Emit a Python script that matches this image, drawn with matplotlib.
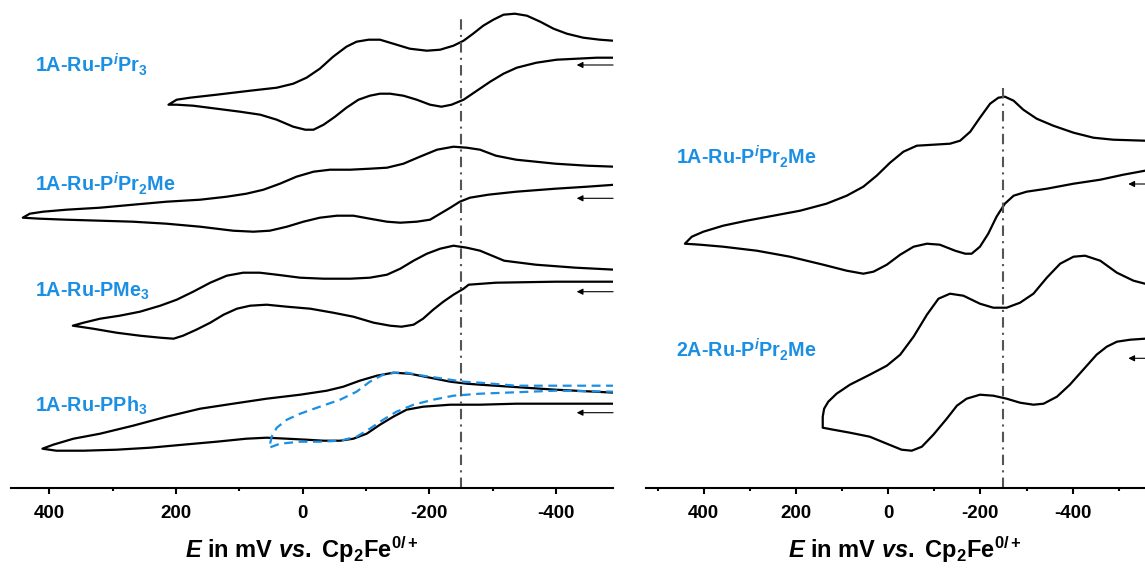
import matplotlib
matplotlib.use("Agg")
import matplotlib.pyplot as plt
from matplotlib.ticker import MultipleLocator

plt.rcParams.update({
    "font.family": "Liberation Sans",
    "font.weight": "bold",
    "axes.unicode_minus": False,
    "mathtext.fontset": "custom",
    "mathtext.rm": "Liberation Sans:bold",
    "mathtext.it": "Liberation Sans:italic:bold",
    "mathtext.bf": "Liberation Sans:bold",
})

BLUE = "#1a8fe3"

# ---- left panel: E in mV vs Fc, current in a.u. (relative to each trace's start) ----
# each trace: return branch from the negative end to the positive vertex, then forward branch back
PIPR3_E = [-490, -464, -433, -401, -369, -338, -317, -296, -275, -254, -235, -219, -201, -180,
           -159, -138, -122, -106, -88, -69, -51, -33, -17, -4, 15, 41, 67, 99, 136, 173, 199,
           212, 199, 178, 136, 83, 41, 15, -6, -27, -48, -69, -85, -104, -122, -143, -169, -196,
           -217, -238, -254, -269, -285, -301, -317, -335, -354, -375, -396, -417, -443, -469,
           -490]
PIPR3_I = [0.0, 0.0, -0.1, -0.2, -0.5, -1.0, -1.6, -2.4, -3.3, -4.2, -4.7, -4.9, -4.7, -4.2,
           -3.8, -3.6, -3.6, -3.8, -4.2, -5.0, -5.9, -6.7, -7.2, -7.2, -6.9, -6.2, -5.7, -5.4,
           -5.1, -4.8, -4.7, -4.7, -4.2, -4.0, -3.7, -3.3, -3.0, -2.6, -2.0, -1.1, 0.1, 1.1, 1.6,
           1.8, 1.8, 1.4, 0.9, 0.7, 0.8, 1.2, 1.7, 2.4, 3.2, 3.8, 4.3, 4.4, 4.2, 3.6, 2.9, 2.4,
           2.0, 1.8, 1.7]

PIPR2ME_E = [-493, -449, -399, -337, -293, -264, -248, -233, -217, -201, -180, -154, -133, -106,
             -80, -54, -27, -1, 25, 52, 78, 110, 162, 215, 268, 320, 373, 415, 442, 431, 410,
             373, 320, 268, 215, 162, 120, 89, 62, 36, 10, -17, -43, -75, -106, -133, -159,
             -185, -212, -238, -259, -280, -305, -337, -399, -449, -493]
PIPR2ME_I = [0.0, -0.2, -0.4, -0.7, -1.0, -1.3, -1.7, -2.3, -2.9, -3.5, -3.7, -3.8, -3.7, -3.4,
             -3.1, -3.1, -3.3, -3.7, -4.2, -4.6, -4.7, -4.6, -4.2, -3.9, -3.7, -3.6, -3.5, -3.4,
             -3.3, -2.9, -2.7, -2.5, -2.3, -2.0, -1.7, -1.5, -1.2, -0.9, -0.5, 0.1, 0.8, 1.3,
             1.5, 1.5, 1.6, 1.7, 2.1, 2.8, 3.5, 3.8, 3.7, 3.5, 2.9, 2.5, 2.1, 1.9, 1.8]

PME3_E = [-493, -399, -305, -262, -254, -238, -222, -206, -190, -175, -156, -138, -112, -80,
          -48, -12, 25, 57, 83, 104, 125, 146, 168, 189, 204, 225, 257, 294, 331, 352, 363, 346,
          320, 289, 257, 225, 199, 173, 146, 120, 94, 68, 41, 4, -33, -75, -106, -133, -154,
          -175, -196, -217, -238, -259, -280, -318, -368, -431, -493]
PME3_I = [0.0, 0.0, -0.1, -0.3, -0.7, -1.3, -2.0, -2.8, -3.7, -4.3, -4.5, -4.4, -4.1, -3.5,
          -3.1, -2.7, -2.5, -2.3, -2.4, -2.7, -3.3, -4.1, -4.8, -5.4, -5.7, -5.6, -5.4, -5.1,
          -4.7, -4.5, -4.4, -4.1, -3.7, -3.4, -3.0, -2.4, -1.8, -1.0, -0.1, 0.6, 0.9, 0.9, 0.7,
          0.4, 0.3, 0.3, 0.4, 0.7, 1.3, 2.1, 2.8, 3.3, 3.6, 3.4, 3.1, 2.1, 1.7, 1.4, 1.2]

PPH3_E = [-493, -337, -280, -233, -190, -164, -143, -122, -101, -80, -59, -33, -6, 25, 57, 89,
          136, 189, 241, 294, 346, 389, 411, 394, 362, 320, 268, 215, 162, 110, 57, 4, -38, -64,
          -90, -117, -143, -169, -201, -233, -259, -280, -399, -493]
PPH3_I = [0.0, 0.0, -0.1, -0.1, -0.3, -0.6, -1.3, -2.1, -3.0, -3.5, -3.7, -3.7, -3.6, -3.5,
          -3.4, -3.5, -3.8, -4.1, -4.4, -4.6, -4.7, -4.7, -4.5, -4.1, -3.5, -3.0, -2.2, -1.3,
          -0.5, 0.0, 0.5, 0.9, 1.3, 1.7, 2.3, 2.8, 3.1, 3.0, 2.6, 2.2, 2.0, 1.9, 1.4, 1.1]

# narrower window for 1A-Ru-PPh3 (dashed)
PPH3_NARROW_E = [-493, -337, -280, -254, -222, -190, -164, -146, -127, -106, -85, -59, -27, 4,
                 25, 41, 49, 53, 36, 4, -27, -59, -85, -106, -127, -148, -175, -206, -238, -280,
                 -399, -493]
PPH3_NARROW_I = [1.8, 1.8, 2.1, 2.2, 2.5, 2.8, 3.1, 3.1, 2.9, 2.2, 1.2, 0.4, -0.3, -1.0, -1.6,
                 -2.4, -3.3, -4.4, -4.0, -3.8, -3.8, -3.7, -3.3, -2.5, -1.6, -0.8, -0.1, 0.4,
                 0.8, 1.0, 1.3, 1.2]

# ---- right panel ----
R_PIPR2ME_E = [-557, -510, -460, -402, -344, -300, -272, -253, -235, -217, -199, -181, -167,
               -145, -112, -84, -55, -26, 3, 32, 54, 90, 141, 213, 285, 358, 408, 441, 426, 401,
               358, 307, 249, 191, 134, 90, 54, 25, -4, -33, -62, -98, -134, -156, -178, -199,
               -221, -239, -253, -272, -293, -322, -358, -402, -445, -488, -557]
R_PIPR2ME_I = [0.0, -0.4, -0.9, -1.3, -1.8, -2.1, -2.5, -3.3, -4.6, -6.3, -7.6, -8.3, -8.3,
               -8.0, -7.4, -7.3, -7.6, -8.4, -9.4, -10.1, -10.3, -10.0, -9.4, -8.6, -8.0, -7.6,
               -7.4, -7.3, -6.6, -6.1, -5.5, -5.0, -4.5, -4.0, -3.3, -2.5, -1.6, -0.5, 0.8, 1.9,
               2.5, 2.6, 2.7, 3.0, 3.9, 5.3, 6.7, 7.3, 7.4, 7.0, 6.1, 5.2, 4.5, 3.8, 3.3, 3.1,
               3.0]

DIMER_E = [-557, -525, -496, -474, -452, -423, -394, -366, -337, -315, -286, -257, -228, -199,
           -170, -149, -127, -98, -73, -51, -29, 3, 40, 83, 119, 142, 142, 139, 130, 112, 83, 40,
           3, -26, -55, -84, -109, -134, -163, -199, -228, -257, -286, -315, -344, -373, -402,
           -427, -460, -496, -532, -557]
DIMER_I = [-0.1, -0.2, -0.4, -0.9, -1.7, -3.2, -4.7, -5.9, -6.6, -6.7, -6.5, -6.1, -5.8, -5.7,
           -6.1, -6.8, -8.1, -9.7, -10.9, -11.3, -11.2, -10.6, -9.9, -9.5, -9.2, -9.0, -7.9,
           -7.1, -6.4, -5.6, -4.7, -3.7, -2.8, -1.7, 0.1, 2.3, 3.9, 4.4, 4.2, 3.4, 3.0, 3.0, 3.5,
           4.4, 6.0, 7.4, 8.1, 8.2, 7.7, 6.5, 5.7, 5.4]

LEFT_LABELS = [r"1A-Ru-P$^{\mathit{i}}$Pr$_\mathrm{3}$", r"1A-Ru-P$^{\mathit{i}}$Pr$_\mathrm{2}$Me",
               r"1A-Ru-PMe$_\mathrm{3}$", r"1A-Ru-PPh$_\mathrm{3}$"]
RIGHT_LABELS = [r"1A-Ru-P$^{\mathit{i}}$Pr$_\mathrm{2}$Me", r"2A-Ru-P$^{\mathit{i}}$Pr$_\mathrm{2}$Me"]

E_REF = -250  # dash-dot reference line
XLABEL = r"$\mathit{E}$ in mV $\mathit{vs.}$ Cp$_\mathrm{2}$Fe$^\mathrm{0/+}$"

# stacking offsets (a.u.)
LEFT_OFFSETS = [43.0, 30.3, 20.6, 8.4]
RIGHT_OFFSETS = [31.7, 15.0]
YTOP = 48.77


def style_axis(ax, xlim):
    ax.set_xlim(*xlim)
    ax.set_ylim(0, YTOP)
    for side in ("top", "left", "right"):
        ax.spines[side].set_visible(False)
    ax.spines["bottom"].set_linewidth(1.5)
    ax.set_yticks([])
    ax.xaxis.set_major_locator(MultipleLocator(200))
    ax.xaxis.set_minor_locator(MultipleLocator(100))
    ax.tick_params(axis="x", which="major", length=4.5, width=1.5, pad=8, labelsize=13.5)
    ax.tick_params(axis="x", which="minor", length=2.5, width=1.5)
    ax.patch.set_alpha(0)


def arrow(ax, x0, x1, y):
    ax.annotate("", xy=(x1, y), xytext=(x0, y),
                arrowprops=dict(arrowstyle="-|>", lw=0.8, color="black", mutation_scale=9,
                                shrinkA=0, shrinkB=0))


def main():
    fig = plt.figure(figsize=(11.45, 5.68), dpi=100)
    axl = fig.add_axes([10.7 / 1145, 1 - 487.7 / 568, 602.3 / 1145, 487.7 / 568])
    axr = fig.add_axes([645.7 / 1145, 1 - 487.7 / 568, 499.3 / 1145, 487.7 / 568])
    style_axis(axl, (461.1, -489.9))
    style_axis(axr, (526.0, -557.0))

    lw = 1.6
    left = [(PIPR3_E, PIPR3_I), (PIPR2ME_E, PIPR2ME_I), (PME3_E, PME3_I), (PPH3_E, PPH3_I)]
    for (e, i), off in zip(left, LEFT_OFFSETS):
        axl.plot(e, [v + off for v in i], color="black", lw=lw, solid_joinstyle="round")
    axl.plot(PPH3_NARROW_E, [v + LEFT_OFFSETS[3] for v in PPH3_NARROW_I], color=BLUE, lw=lw,
             dashes=(4, 2.5))

    right = [(R_PIPR2ME_E, R_PIPR2ME_I), (DIMER_E, DIMER_I)]
    for (e, i), off in zip(right, RIGHT_OFFSETS):
        axr.plot(e, [v + off for v in i], color="black", lw=lw, solid_joinstyle="round")

    # reference line
    axl.vlines(E_REF, 0, 46.97, color="#555555", lw=1.5, linestyles=[(0, (5, 2.5, 1, 2.5))])
    axr.vlines(E_REF, 0, 40.47, color="#555555", lw=1.5, linestyles=[(0, (5, 2.5, 1, 2.5))])

    # scan direction arrows
    for off, dy in zip(LEFT_OFFSETS, [-0.73, -1.36, -1.0, -0.9]):
        arrow(axl, -490, -432.6, off + dy)
    for off, dy in zip(RIGHT_OFFSETS, [-1.33, -2.06]):
        arrow(axr, -560, -520.8, off + dy)

    # labels
    for lab, y in zip(LEFT_LABELS, [41.6, 29.67, 19.1, 7.6]):
        axl.text(422.7, y, lab, color=BLUE, fontsize=14.2, fontweight="bold", va="baseline")
    for lab, y in zip(RIGHT_LABELS, [32.37, 13.1]):
        axr.text(460.3, y, lab, color=BLUE, fontsize=14.2, fontweight="bold", va="baseline")

    fig.text(302 / 1145, 1 - 558 / 568, XLABEL, fontsize=17, ha="center", va="baseline")
    fig.text(905 / 1145, 1 - 558 / 568, XLABEL, fontsize=17, ha="center", va="baseline")

    fig.savefig("out.png", dpi=100)


if __name__ == "__main__":
    main()
